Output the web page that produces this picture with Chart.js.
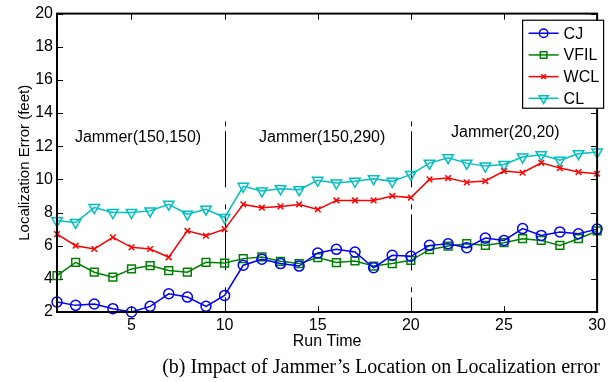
<!DOCTYPE html>
<html><head><meta charset="utf-8">
<script src="https://cdn.jsdelivr.net/npm/chart.js@4/dist/chart.umd.min.js"></script>
<style>html,body{margin:0;padding:0;background:#fff;}#wrap{width:610px;height:382px;position:relative;}</style>
</head><body><div id="wrap"><canvas id="c" width="610" height="382"></canvas></div>
<script>
const runTimes = [1,2,3,4,5,6,7,8,9,10,11,12,13,14,15,16,17,18,19,20,21,22,23,24,25,26,27,28,29,30];
const cj   = [2.6,2.4,2.48,2.2,2.0,2.34,3.1,2.9,2.34,3.0,4.82,5.18,4.92,4.77,5.56,5.78,5.62,4.67,5.42,5.36,6.02,6.12,5.88,6.46,6.32,7.03,6.62,6.83,6.72,7.0];
const vfil = [4.2,5.0,4.4,4.1,4.6,4.8,4.5,4.4,5.0,4.95,5.22,5.32,5.06,4.92,5.28,4.98,5.08,4.77,4.92,5.12,5.76,5.98,6.12,6.02,6.18,6.42,6.32,6.02,6.42,6.89];
const wcl  = [6.7,6.0,5.8,6.5,5.9,5.8,5.3,6.9,6.6,7.0,8.49,8.29,8.37,8.49,8.19,8.73,8.73,8.73,9.0,8.9,10.0,10.08,9.82,9.9,10.5,10.4,11.0,10.68,10.44,10.34];
const cl   = [7.5,7.4,8.3,8.0,8.0,8.1,8.5,7.9,8.2,7.7,9.58,9.3,9.44,9.38,9.94,9.78,9.88,10.04,9.88,10.3,10.98,11.31,10.98,10.8,10.9,11.35,11.49,11.15,11.55,11.65];
const seriesNames = ["CJ","VFIL","WCL","CL"];
const xTicks = [5,10,15,20,25,30];
const yTicks = [2,4,6,8,10,12,14,16,18,20];
const jammerLines = [10,20];
const jammerLabels = ["Jammer(150,150)","Jammer(150,290)","Jammer(20,20)"];
const jammerLabelPos = [[5.35,12.55],[15.24,12.55],[25.07,12.8]];
const caption = "(b) Impact of Jammer\u2019s Location on Localization error";

const styles = [
  {color:'#0000ff', pointStyle:'circle', radius:5, rotation:0},
  {color:'#008000', pointStyle:'rect', radius:5.5, rotation:0},
  {color:'#ff0000', pointStyle:'crossRot', radius:4, rotation:0},
  {color:'#00bfbf', pointStyle:'triangle', radius:6, rotation:180}
];
const allSeries = [cj, vfil, wcl, cl];
const datasets = allSeries.map((vals,i)=>({
  label: seriesNames[i],
  data: vals.map((v,j)=>({x: runTimes[j], y: v})),
  borderColor: styles[i].color,
  backgroundColor: 'rgba(0,0,0,0)',
  borderWidth: 1.5,
  pointStyle: styles[i].pointStyle,
  pointRadius: styles[i].radius,
  pointRotation: styles[i].rotation,
  pointBorderColor: styles[i].color,
  pointBackgroundColor: 'rgba(0,0,0,0)',
  pointBorderWidth: 1.5,
  tension: 0,
  clip: false
}));

const SANS = "'Liberation Sans', Arial, sans-serif";

const decor = {
  id: 'decor',
  beforeDatasetsDraw(chart) {
    const {ctx, chartArea:a, scales:{x, y}} = chart;
    ctx.save();
    ctx.strokeStyle = '#000';
    ctx.lineWidth = 1;
    ctx.setLineDash([5,5,56,17]);
    jammerLines.forEach(v=>{
      const px = Math.round(x.getPixelForValue(v)) + 0.5;
      ctx.beginPath();
      ctx.moveTo(px, y.getPixelForValue(13.5));
      ctx.lineTo(px, y.getPixelForValue(2));
      ctx.stroke();
    });
    ctx.setLineDash([]);
    ctx.fillStyle = '#000';
    ctx.font = "16px " + SANS;
    ctx.textAlign = 'center';
    ctx.textBaseline = 'middle';
    jammerLabels.forEach((t,i)=>{
      ctx.fillText(t, x.getPixelForValue(jammerLabelPos[i][0]), y.getPixelForValue(jammerLabelPos[i][1]));
    });
    ctx.lineWidth = 1;
    const tl = 6;
    xTicks.forEach(v=>{
      const px = Math.round(x.getPixelForValue(v)) + 0.5;
      ctx.beginPath();
      ctx.moveTo(px, a.bottom); ctx.lineTo(px, a.bottom - tl);
      ctx.moveTo(px, a.top); ctx.lineTo(px, a.top + tl);
      ctx.stroke();
    });
    yTicks.forEach(v=>{
      const py = Math.round(y.getPixelForValue(v)) + 0.5;
      ctx.beginPath();
      ctx.moveTo(a.left, py); ctx.lineTo(a.left + tl, py);
      ctx.moveTo(a.right, py); ctx.lineTo(a.right - tl, py);
      ctx.stroke();
    });
    ctx.restore();
  },
  afterDatasetsDraw(chart) {
    const {ctx, chartArea:a, scales:{x, y}} = chart;
    ctx.save();
    ctx.strokeStyle = '#000';
    ctx.lineWidth = 2;
    ctx.strokeRect(a.left, a.top, a.right - a.left, a.bottom - a.top);
    const lx = x.getPixelForValue(26.0), ly = y.getPixelForValue(19.6);
    const lw = 81, lh = 88;
    ctx.fillStyle = '#fff';
    ctx.fillRect(lx, ly, lw, lh);
    ctx.lineWidth = 1.2;
    ctx.strokeRect(lx, ly, lw, lh);
    ctx.font = "16px " + SANS;
    ctx.textAlign = 'left';
    ctx.textBaseline = 'middle';
    seriesNames.forEach((n,i)=>{
      const ey = ly + 13 + i*21.7;
      ctx.strokeStyle = styles[i].color;
      ctx.lineWidth = 1.5;
      ctx.beginPath();
      ctx.moveTo(lx + 6, ey); ctx.lineTo(lx + 36, ey);
      ctx.stroke();
      ctx.fillStyle = 'rgba(0,0,0,0)';
      Chart.helpers.drawPoint(ctx, {pointStyle: styles[i].pointStyle, radius: styles[i].radius*0.85, rotation: styles[i].rotation, borderWidth:1.5}, lx + 21, ey);
      ctx.fillStyle = '#000';
      ctx.fillText(n, lx + 41, ey + 1);
    });
    ctx.restore();
  }
};

new Chart(document.getElementById('c'), {
  type: 'line',
  data: { datasets },
  options: {
    responsive: false,
    animation: false,
    devicePixelRatio: 1,
    layout: { padding: { left: 0, right: 10, top: 13, bottom: 1 } },
    plugins: {
      legend: { display: false },
      tooltip: { enabled: false },
      title: {
        display: true,
        position: 'bottom',
        align: 'end',
        text: caption,
        color: '#000',
        font: { family: "'Liberation Serif', 'Times New Roman', serif", size: 20, weight: 'normal' },
        padding: { top: 0, bottom: 1 }
      }
    },
    scales: {
      x: {
        type: 'linear',
        min: 1, max: 30,
        afterBuildTicks(s){ s.ticks = xTicks.map(v=>({value:v})); },
        afterFit(s){ s.height = 44; },
        grid: { display: false, drawTicks: false },
        border: { display: false },
        ticks: { color:'#000', font:{family:SANS, size:16}, padding: 4, maxRotation: 0, autoSkip: false },
        title: { display: true, text: 'Run Time', color:'#000', font:{family:SANS, size:16}, padding:{top:0,bottom:5} }
      },
      y: {
        min: 2, max: 20,
        afterBuildTicks(s){ s.ticks = yTicks.map(v=>({value:v})); },
        afterFit(s){ s.width = 57; },
        grid: { display: false, drawTicks: false },
        border: { display: false },
        ticks: { color:'#000', font:{family:SANS, size:16}, padding: 4 },
        title: { display: true, text: 'Localization Error (feet)', color:'#000', font:{family:SANS, size:15}, padding:{top:16,bottom:0} }
      }
    }
  },
  plugins: [decor]
});
</script>
</body></html>
